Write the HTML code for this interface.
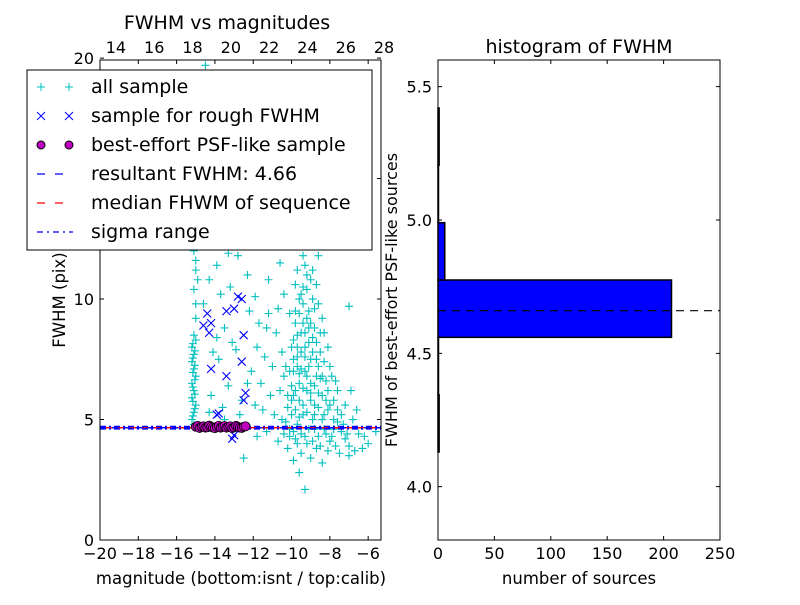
<!DOCTYPE html>
<html><head><meta charset="utf-8"><style>
body{margin:0;background:#fff;font-family:"Liberation Sans","DejaVu Sans",sans-serif}
svg text{font-family:"DejaVu Sans","Liberation Sans",sans-serif;fill:#000}
</style></head><body>
<svg id="c" width="800" height="600" viewBox="0 0 800 600"></svg>
<script>
const allSample=[[-15.1,4.8],[-15.2,5.0],[-15.1,5.3],[-15.0,5.6],[-15.2,5.9],[-15.1,6.2],[-15.2,6.5],[-15.0,6.8],[-15.1,7.1],[-15.2,7.4],[-15.1,7.7],[-15.2,8.0],[-15.0,8.3],[-15.1,8.5],[-15.0,9.2],[-15.1,10.4],[-15.0,11.2],[-15.1,12.0],[-14.9,12.8],[-15.0,13.5],[-15.1,14.3],[-15.0,15.2],
[-15.15,5.15],[-15.05,5.45],[-15.15,5.75],[-15.05,6.05],[-15.15,6.35],[-15.05,6.65],[-15.15,6.95],[-15.05,7.25],[-15.15,7.55],[-15.05,7.85],[-15.15,8.15],[-15.0,9.8],[-14.9,10.8],[-15.0,11.6],
[-14.2,6.0],[-13.8,7.5],[-13.5,8.8],[-13.2,10.5],[-12.8,11.8],[-12.4,13.2],[-14.0,12.5],[-13.0,15.5],[-12.2,9.5],[-11.8,8.0],[-11.6,6.5],[-12.6,5.8],[-13.6,5.5],[-14.6,9.8],[-14.4,13.9],[-12.0,14.6],[-11.4,12.2],[-11.2,10.8],[-12.9,17.0],[-14.5,19.7],[-14.1,16.2],[-11.0,7.2],[-11.5,5.4],
[-14.3,10.8],[-13.9,11.4],[-13.7,10.2],[-13.3,11.9],[-12.7,12.6],[-12.3,11.0],[-11.9,10.1],[-11.7,9.0],[-12.1,7.0],[-12.9,7.9],[-13.1,8.2],[-13.9,8.4],[-14.1,7.8],[-13.3,6.4],[-12.3,6.5],[-11.9,5.6],[-12.7,5.2],[-13.5,5.0],[-14.3,5.3],[-11.3,8.8],[-11.1,6.0],[-11.6,14.0],[-12.4,15.8],[-13.7,15.0],[-13.4,17.6],[-11.8,16.8],
[-10.5,5.0],[-10.2,5.5],[-9.9,6.0],[-9.6,6.5],[-9.3,7.0],[-9.0,7.5],[-8.7,6.8],[-8.4,6.0],[-8.1,5.4],[-7.8,5.0],[-10.0,8.0],[-9.7,8.5],[-9.4,9.0],[-9.1,9.5],[-8.8,8.8],[-8.5,7.8],[-10.3,7.2],[-10.6,6.2],[-9.5,10.2],[-9.2,11.0],[-8.9,10.0],[-9.8,10.6],[-10.1,9.4],[-9.0,12.5],[-9.6,13.0],[-8.6,11.8],[-10.4,4.4],[-9.8,4.2],[-9.2,4.0],[-8.6,4.3],[-8.0,4.1],[-7.4,4.5],[-7.0,3.9],[-6.5,4.4],[-6.0,4.0],[-9.5,3.6],[-10.2,3.8],[-8.8,5.6],[-9.4,5.2],[-10.0,5.8],[-8.2,6.6],[-7.6,6.2],[-7.2,5.6],[-6.9,6.2],[-9.7,7.6],[-9.1,8.2],[-8.4,9.2],[-8.0,7.2],[-10.8,8.6],[-10.6,11.5],[-11.0,13.8],[-10.2,15.0],[-9.4,16.5],[-8.2,14.2],[-7.0,9.7],[-9.6,2.8],[-9.3,2.1],[-7.5,3.6],[-6.3,3.8],[-5.6,4.5],[-10.9,5.2],[-11.8,4.3],[-12.5,3.4],
[-9.9,7.0],[-9.5,7.8],[-9.2,6.2],[-8.9,5.0],[-9.6,5.8],[-9.0,6.5],[-8.6,7.2],[-9.3,8.6],[-9.8,9.5],[-10.4,6.8],[-8.3,5.2],[-8.8,4.6],[-9.7,4.8],[-10.1,4.6],[-8.5,3.9],[-7.8,4.6],[-7.2,4.2],[-8.2,4.4],[-6.8,5.0],[-7.6,5.4],[-9.4,11.8],[-9.9,12.2],[-8.8,13.4],[-9.1,14.0],
[-10.0,5.2],[-9.8,5.4],[-9.6,5.1],[-9.4,5.6],[-9.2,5.3],[-9.0,5.8],[-8.8,5.2],[-8.6,5.5],[-8.4,5.0],[-10.2,6.0],[-10.0,6.4],[-9.8,6.2],[-9.6,6.9],[-9.4,6.3],[-9.2,6.8],[-9.0,6.1],[-8.8,6.4],[-8.6,6.1],[-8.4,6.8],[-8.2,5.8],[-10.1,7.0],[-9.9,7.5],[-9.7,7.2],[-9.5,7.1],[-9.3,7.6],[-9.1,7.2],[-8.9,7.8],[-8.7,7.5],[-8.5,6.7],[-9.9,8.3],[-9.7,8.0],[-9.5,8.6],[-9.3,8.0],[-9.1,8.8],[-8.9,8.4],[-8.7,8.2],[-9.8,9.0],[-9.6,9.4],[-9.4,9.8],[-9.2,9.2],[-9.0,9.0],[-8.8,9.6],[-9.6,10.0],[-9.4,10.5],[-9.2,10.4],[-9.0,10.8],[-9.7,11.2],[-9.3,11.4],[-8.9,11.2],[-9.5,12.2],
[-10.3,4.9],[-10.1,4.3],[-9.9,4.5],[-9.7,4.0],[-9.5,4.4],[-9.3,4.3],[-9.1,4.6],[-8.9,4.1],[-8.7,3.8],[-8.3,4.6],[-8.1,3.7],[-7.9,4.3],[-7.7,3.9],[-7.3,4.8],[-7.1,4.4],[-6.7,3.7],[-8.0,5.6],[-7.8,5.8],[-7.6,4.9],[-7.4,5.2],[-8.1,6.2],[-7.9,6.8],[-7.7,6.6],[-8.3,7.4],[-8.1,8.0],[-8.3,8.6],[-8.5,8.6],[-8.6,9.8],[-8.7,10.6],[-10.5,7.8],[-10.7,9.6],[-10.4,10.2],[-10.3,12.4],[-10.0,13.6],[-9.3,13.2],[-8.6,12.6],[-11.2,9.4],[-11.4,7.6],[-11.3,4.5],[-10.7,4.1],[-9.0,3.4],[-8.4,3.2],[-9.9,3.3],[-7.0,3.5],[-6.6,5.4],[-6.2,4.3]];
const roughSample=[[-14.6,8.9],[-14.4,9.4],[-14.2,9.0],[-14.3,8.6],[-14.0,12.6],[-13.6,13.7],[-13.5,14.3],[-13.2,13.0],[-13.0,9.6],[-13.4,9.5],[-12.8,10.1],[-12.6,10.0],[-12.5,8.5],[-12.6,7.4],[-14.2,7.1],[-13.4,6.8],[-12.4,6.1],[-12.5,5.8],[-13.9,5.2],[-13.8,5.25],[-13.1,4.2],[-13.0,4.35]];
const psfSample=[[-15.0,4.7],[-14.9,4.74],[-14.8,4.65],[-14.7,4.7],[-14.6,4.72],[-14.5,4.66],[-14.4,4.68],[-14.3,4.75],[-14.2,4.7],[-14.1,4.66],[-14.0,4.64],[-13.9,4.7],[-13.8,4.74],[-13.7,4.66],[-13.6,4.7],[-13.5,4.73],[-13.4,4.66],[-13.3,4.7],[-13.2,4.72],[-13.1,4.64],[-13.0,4.68],[-12.9,4.74],[-12.8,4.7],[-12.7,4.66],[-12.6,4.65],[-12.5,4.7],[-12.4,4.72]];
const resultFWHM=4.66;
const binEdges=[4.13,4.345,4.56,4.775,4.99,5.205,5.42];
const binCounts=[1,0,207,6,0,1];
const xTicks=[-20,-18,-16,-14,-12,-10,-8,-6];
const topTicks=[14,16,18,20,22,24,26,28];
const yTicks=[0,5,10,15,20];
const hxTicks=[0,50,100,150,200,250];
const hyTicks=[4.0,4.5,5.0,5.5];
const calibOffset=33.17;

const svg=document.getElementById('c');const NS='http://www.w3.org/2000/svg';
function el(t,a,p){const e=document.createElementNS(NS,t);for(const k in a)e.setAttribute(k,a[k]);(p||svg).appendChild(e);return e;}
const L={x0:100,x1:381,y0:540,y1:60},xmin=-20,xmax=-5.33,ymin=0,ymax=19.92;
const sx=v=>L.x0+(v-xmin)/(xmax-xmin)*(L.x1-L.x0);
const sy=v=>L.y0-(v-ymin)/(ymax-ymin)*(L.y0-L.y1);
const R={x0:438,x1:720,y0:540,y1:60},hxmax=250,hymin=3.8,hymax=5.6;
const hx=v=>R.x0+v/hxmax*(R.x1-R.x0);
const hy=v=>R.y0-(v-hymin)/(hymax-hymin)*(R.y0-R.y1);
const FS=16;

const gL=el('g',{});
el('clipPath',{id:'cl'},svg);el('rect',{x:L.x0,y:L.y1,width:L.x1-L.x0,height:L.y0-L.y1},svg.lastChild);
const pts=el('g',{'clip-path':'url(#cl)'},gL);
allSample.forEach(p=>{const x=sx(p[0]),y=sy(p[1]);const g=el('path',{d:`M${x-4},${y}h8M${x},${y-4}v8`,stroke:'#00bfbf','stroke-width':1.1},pts);});
const yl=sy(resultFWHM);
let ln=el('line',{x1:L.x0,x2:L.x1,y1:yl,y2:yl,stroke:'#00f','stroke-dasharray':'6,6','stroke-width':1.5},pts);
ln=el('line',{x1:L.x0+6,x2:L.x1,y1:yl,y2:yl,stroke:'#f00','stroke-dasharray':'6,6','stroke-width':1.5},pts);
[resultFWHM-0.05,resultFWHM+0.05].forEach(v=>{const s=el('line',{x1:L.x0,x2:L.x1,y1:sy(v),y2:sy(v),stroke:'#00f','stroke-dasharray':'6,3,2,3','stroke-width':1.5},pts);});
roughSample.forEach(p=>{const x=sx(p[0]),y=sy(p[1]);const g=el('path',{d:`M${x-4},${y-4}l8,8M${x-4},${y+4}l8,-8`,stroke:'#00f','stroke-width':1.1},pts);});
psfSample.forEach(p=>{const c=el('circle',{cx:sx(p[0]),cy:sy(p[1]),r:4.5,fill:'#bf00bf',stroke:'#000','stroke-width':0.8},pts);});
el('rect',{x:L.x0,y:L.y1,width:L.x1-L.x0,height:L.y0-L.y1,fill:'none',stroke:'#000'},gL);
xTicks.forEach(v=>{const x=sx(v);el('path',{d:`M${x},${L.y0}v-4M${x},${L.y1}v4`,stroke:'#000'},gL);const t=el('text',{x:x,y:L.y0+19,'text-anchor':'middle','font-size':FS},gL);t.textContent=v<0?'\u2212'+(-v):v;});
topTicks.forEach(v=>{const x=sx(v-calibOffset);const t=el('text',{x:x,y:L.y1-7,'text-anchor':'middle','font-size':FS},gL);t.textContent=v;});
yTicks.forEach(v=>{const y=sy(v);el('path',{d:`M${L.x0},${y}h4M${L.x1},${y}h-4`,stroke:'#000'},gL);const t=el('text',{x:L.x0-6,y:y+6,'text-anchor':'end','font-size':FS},gL);t.textContent=v;});
let t=el('text',{x:227,y:29,'text-anchor':'middle','font-size':19});t.textContent='FWHM vs magnitudes';
t=el('text',{x:241,y:584,'text-anchor':'middle','font-size':16.5});t.textContent='magnitude (bottom:isnt / top:calib)';
t=el('text',{x:0,y:0,'text-anchor':'middle','font-size':16.5,transform:'translate(65,300) rotate(-90)'});t.textContent='FWHM (pix)';

const lg=el('g',{});
el('rect',{x:27,y:70,width:345,height:180,fill:'#fff',stroke:'#000'},lg);
const labels=['all sample','sample for rough FWHM','best-effort PSF-like sample','resultant FWHM: 4.66','median FHWM of sequence','sigma range'];
labels.forEach((s,i)=>{const y=87+i*29;const x1=41,x2=69;
 if(i==0)[x1,x2].forEach(x=>el('path',{d:`M${x-4},${y}h8M${x},${y-4}v8`,stroke:'#00bfbf'},lg));
 if(i==1)[x1,x2].forEach(x=>el('path',{d:`M${x-4},${y-4}l8,8M${x-4},${y+4}l8,-8`,stroke:'#00f'},lg));
 if(i==2)[x1,x2].forEach(x=>el('circle',{cx:x,cy:y,r:4,fill:'#bf00bf',stroke:'#000'},lg));
 if(i==3)el('line',{x1:x1-4,x2:x2+4,y1:y,y2:y,stroke:'#00f','stroke-dasharray':'8,10','stroke-width':1.3},lg);
 if(i==4)el('line',{x1:x1-4,x2:x2+4,y1:y,y2:y,stroke:'#f00','stroke-dasharray':'8,10','stroke-width':1.3},lg);
 if(i==5)el('line',{x1:x1-4,x2:x2+4,y1:y,y2:y,stroke:'#00f','stroke-dasharray':'6,4,2,4','stroke-width':1.3},lg);
 const e=el('text',{x:91,y:y+6,'font-size':19},lg);e.textContent=s;});

const gR=el('g',{});
binCounts.forEach((c,i)=>{const y0=hy(binEdges[i+1]),y1=hy(binEdges[i]);const r=el('rect',{x:R.x0,y:y0,width:Math.max(hx(c)-R.x0,0.5),height:y1-y0,fill:'#00f',stroke:'#000','stroke-width':1.5},gR);});
ln=el('line',{x1:R.x0,x2:R.x1,y1:hy(resultFWHM),y2:hy(resultFWHM),stroke:'#000','stroke-dasharray':'8,6','stroke-width':1.2},gR);
el('rect',{x:R.x0,y:R.y1,width:R.x1-R.x0,height:R.y0-R.y1,fill:'none',stroke:'#000'},gR);
hxTicks.forEach(v=>{const x=hx(v);el('path',{d:`M${x},${R.y0}v-4M${x},${R.y1}v4`,stroke:'#000'},gR);const e=el('text',{x:x,y:R.y0+19,'text-anchor':'middle','font-size':FS},gR);e.textContent=v;});
hyTicks.forEach(v=>{const y=hy(v);el('path',{d:`M${R.x0},${y}h4M${R.x1},${y}h-4`,stroke:'#000'},gR);const e=el('text',{x:R.x0-6,y:y+6,'text-anchor':'end','font-size':FS},gR);e.textContent=v.toFixed(1);});
t=el('text',{x:579,y:53,'text-anchor':'middle','font-size':19});t.textContent='histogram of FWHM';
t=el('text',{x:579,y:584,'text-anchor':'middle','font-size':16.5});t.textContent='number of sources';
t=el('text',{x:0,y:0,'text-anchor':'middle','font-size':16,transform:'translate(397,300) rotate(-90)'});t.textContent='FWHM of best-effort PSF-like sources';
</script>
</body></html>
